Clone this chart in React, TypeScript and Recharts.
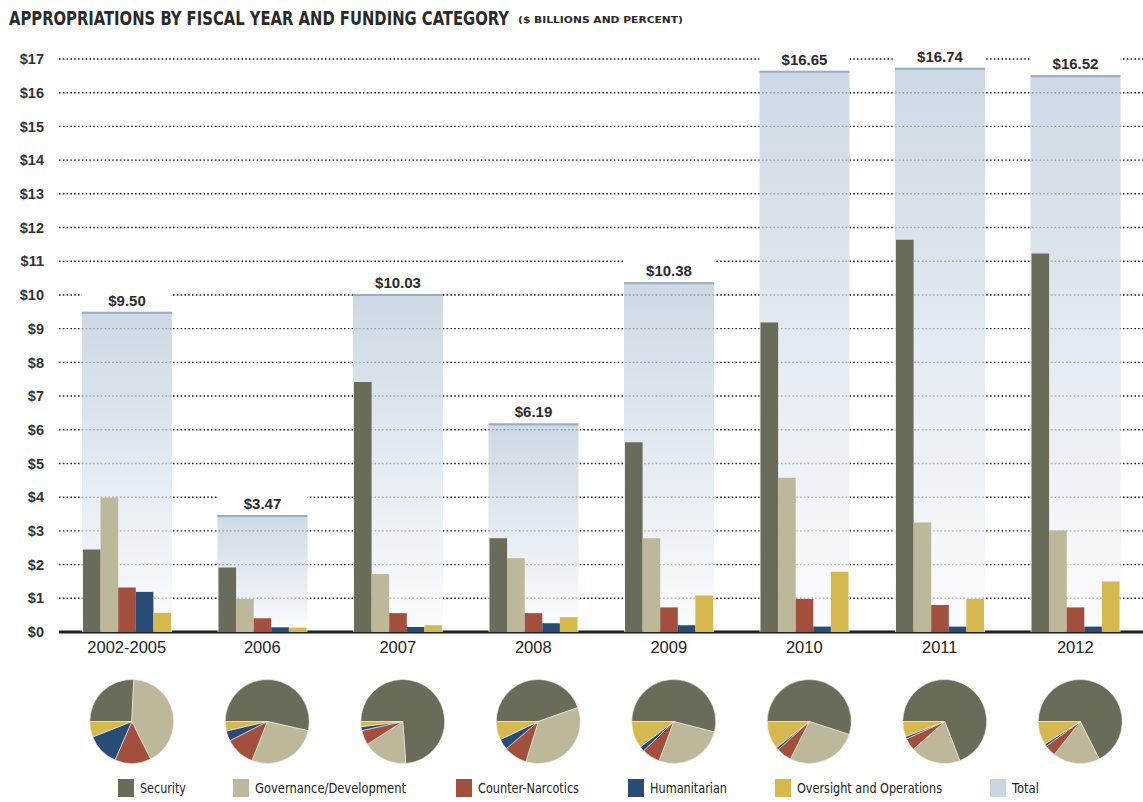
import { BarChart, Bar, XAxis, YAxis, CartesianGrid, LabelList, PieChart, Pie, Cell } from 'recharts';

const years = ['2002-2005', '2006', '2007', '2008', '2009', '2010', '2011', '2012'];

// $ billions
const security = [2.45, 1.91, 7.42, 2.78, 5.63, 9.18, 11.64, 11.23];
const governance = [3.98, 0.98, 1.72, 2.19, 2.78, 4.58, 3.25, 3.01];
const counterNarcotics = [1.32, 0.41, 0.56, 0.56, 0.73, 0.98, 0.8, 0.73];
const humanitarian = [1.19, 0.14, 0.15, 0.26, 0.2, 0.16, 0.16, 0.16];
const oversight = [0.57, 0.13, 0.2, 0.44, 1.08, 1.79, 0.98, 1.5];
const totals = [9.5, 3.47, 10.03, 6.19, 10.38, 16.65, 16.74, 16.52];

const yTicks = [0, 1, 2, 3, 4, 5, 6, 7, 8, 9, 10, 11, 12, 13, 14, 15, 16, 17];

const SERIES = [
  { key: 'security', name: 'Security', color: '#6b6b5a', values: security },
  { key: 'governance', name: 'Governance/Development', color: '#bdb89a', values: governance },
  { key: 'counterNarcotics', name: 'Counter-Narcotics', color: '#a24f3e', values: counterNarcotics },
  { key: 'humanitarian', name: 'Humanitarian', color: '#284c76', values: humanitarian },
  { key: 'oversight', name: 'Oversight and Operations', color: '#d5b94f', values: oversight },
];

const TOTAL_COLOR = '#c9d7e3';

const data = years.map((year, i) => {
  const row: any = { year, total: totals[i] };
  SERIES.forEach((s) => (row[s.key] = s.values[i]));
  return row;
});

const pieData = years.map((_, i) => SERIES.map((s) => ({ name: s.name, value: s.values[i] })));

// layout
const W = 1143;
const PLOT_LEFT = 59;
const PLOT_TOP = 59;
const BASE_Y = 632;
const BAND = (W - PLOT_LEFT) / years.length;
const NARROW = "'Liberation Sans Narrow', 'DejaVu Sans Condensed', 'Liberation Sans', Arial, sans-serif";
const SANS = "'Liberation Sans', Arial, sans-serif";

const legendItems = [
  { name: 'Security', color: SERIES[0].color, x: 118, w: 46 },
  { name: 'Governance/Development', color: SERIES[1].color, x: 233, w: 151 },
  { name: 'Counter-Narcotics', color: SERIES[2].color, x: 456, w: 101 },
  { name: 'Humanitarian', color: SERIES[3].color, x: 628, w: 77 },
  { name: 'Oversight and Operations', color: SERIES[4].color, x: 775, w: 145 },
  { name: 'Total', color: TOTAL_COLOR, x: 990, w: 27 },
];

const gridLine = (p: any) => {
  const base = Math.abs(p.y1 - BASE_Y) < 1;
  return (
    <line
      key={`grid-${p.index}`}
      x1={p.x1}
      x2={p.x2}
      y1={p.y1}
      y2={p.y2}
      stroke="#1e1e1e"
      strokeWidth={base ? 3 : 1.4}
      strokeDasharray={base ? undefined : '1.6 2.2'}
    />
  );
};

const TotalShape = (p: any) => {
  const { x, y, width, height } = p;
  return (
    <g>
      <rect x={x} y={y} width={width} height={height} fill="url(#totalFill)" fillOpacity={0.72} />
      <rect x={x} y={y} width={width} height={2} fill="#97adc3" />
    </g>
  );
};

const TotalLabel = (p: any) => {
  const { x, y, width, value } = p;
  return (
    <g>
      <rect x={x} y={y - 24} width={width} height={22} fill="#fff" />
      <text x={x + width / 2} y={y - 6} textAnchor="middle" fontSize={15} fontWeight="bold" fill="#2b2b2b" fontFamily={SANS}>
        {`$${Number(value).toFixed(2)}`}
      </text>
    </g>
  );
};

export default function App() {
  return (
    <div style={{ position: 'absolute', left: 0, top: 0, width: W, height: 802, background: '#fff', overflow: 'hidden' }}>
      <svg width={W} height={40} style={{ position: 'absolute', left: 0, top: 0 }}>
        <g transform="translate(9,25) scale(1,1.2)">
          <text x={0} y={0} fontSize={16.5} fontWeight="bold" fill="#2a2a2a" fontFamily={NARROW} textLength={500} lengthAdjust="spacingAndGlyphs">
            APPROPRIATIONS BY FISCAL YEAR AND FUNDING CATEGORY
          </text>
        </g>
        <text x={518} y={23} fontSize={9.5} fontWeight="bold" fill="#2a2a2a" fontFamily={NARROW} textLength={165} lengthAdjust="spacingAndGlyphs">
          ($ BILLIONS AND PERCENT)
        </text>
      </svg>

      <div style={{ position: 'absolute', left: 0, top: 0 }}>
        <BarChart width={W} height={670} data={data} margin={{ top: PLOT_TOP, right: 0, bottom: 8, left: 0 }} barGap={0}>
          <defs>
            <linearGradient id="totalFill" x1="0" y1="0" x2="0" y2="1">
              <stop offset="0%" stopColor="#b9cbdb" />
              <stop offset="100%" stopColor="#fafbfd" />
            </linearGradient>
          </defs>
          <CartesianGrid xAxisId="cat" vertical={false} horizontal={gridLine} />
          <XAxis
            dataKey="year"
            xAxisId="cat"
            axisLine={false}
            tickLine={false}
            interval={0}
            height={30}
            tickMargin={3}
            tick={{ fontSize: 16.5, fill: '#222', fontFamily: SANS }}
          />
          <XAxis dataKey="year" xAxisId="total" hide />
          <YAxis
            domain={[0, 17]}
            ticks={yTicks}
            width={PLOT_LEFT}
            axisLine={false}
            tickLine={false}
            tickMargin={9}
            tickFormatter={(v) => `$${v}`}
            tick={{ fontSize: 14.5, fontWeight: 'bold', fill: '#333', fontFamily: SANS }}
          />
          <Bar dataKey="total" name="Total" xAxisId="total" barSize={90} shape={TotalShape} isAnimationActive={false}>
            <LabelList dataKey="total" content={TotalLabel} />
          </Bar>
          {SERIES.map((s) => (
            <Bar key={s.key} dataKey={s.key} name={s.name} xAxisId="cat" fill={s.color} barSize={17.6} isAnimationActive={false} />
          ))}
        </BarChart>
      </div>

      <div style={{ position: 'absolute', left: 0, top: 660 }}>
        <PieChart width={W} height={115}>
          {years.map((yr, i) => (
            <Pie
              key={yr}
              data={pieData[i]}
              dataKey="value"
              nameKey="name"
              cx={PLOT_LEFT + BAND * (i + 0.5)}
              cy={56.5}
              outerRadius={42}
              startAngle={180}
              endAngle={-180}
              stroke="#f2efe4"
              strokeWidth={0.6}
              isAnimationActive={false}
            >
              {SERIES.map((s) => (
                <Cell key={s.key} fill={s.color} />
              ))}
            </Pie>
          ))}
        </PieChart>
      </div>

      <svg width={W} height={32} style={{ position: 'absolute', left: 0, top: 770 }}>
        {legendItems.map((it) => (
          <g key={it.name}>
            <rect x={it.x} y={9} width={16} height={18} fill={it.color} />
            <text x={it.x + 22} y={23} fontSize={13.5} fill="#222" fontFamily={NARROW} textLength={it.w} lengthAdjust="spacingAndGlyphs">
              {it.name}
            </text>
          </g>
        ))}
      </svg>
    </div>
  );
}
